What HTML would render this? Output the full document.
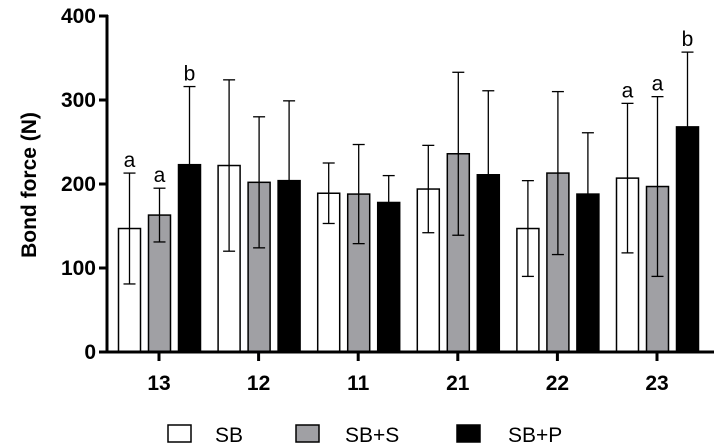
<!DOCTYPE html>
<html><head><meta charset="utf-8"><style>
body{margin:0;background:#fff;}
svg{display:block;font-family:"Liberation Sans",Arial,sans-serif;}
</style></head><body>
<svg id="chart" width="719" height="448"></svg>
<script>
const categories=["13","12","11","21","22","23"];
const seriesNames=["SB","SB+S","SB+P"];
const sbMeans=[147,222,189,194,147,207];
const sbSD=[66,102,36,52,57,89];
const sbsMeans=[163,202,188,236,213,197];
const sbsSD=[32,78,59,97,97,107];
const sbpMeans=[223,204,178,211,188,268];
const sbpSD=[93,95,32,100,73,89];
const yTicks=[0,100,200,300,400];
const letters=[["a","a","b"],null,null,null,null,["a","a","b"]];
const NS="http://www.w3.org/2000/svg";
const svg=document.getElementById('chart');
const y0=352,yTop=16,yMax=400;
function yS(v){return y0-(v/yMax)*(y0-yTop);}
function xS(i){return 159+i*99.6;}
function mk(t,a,p){const e=document.createElementNS(NS,t);for(const k in a)e.setAttribute(k,a[k]);(p||svg).appendChild(e);return e;}
const means=[sbMeans,sbsMeans,sbpMeans],sds=[sbSD,sbsSD,sbpSD];
const fills=["#fff","#a0a0a4","#000"];
const offs=[-29.5,0.5,30.5],bw=22;
categories.forEach((c,i)=>{
  for(let s=0;s<3;s++){
    const cx=xS(i)+offs[s],v=means[s][i],sd=sds[s][i];
    const r=mk('rect',{x:cx-bw/2,y:yS(v),width:bw,height:y0-yS(v),fill:fills[s],stroke:"#000","stroke-width":1.5});
    
    
    const g=mk('g',{stroke:"#000","stroke-width":1.3});
    
    
    mk('line',{x1:cx,x2:cx,y1:yS(v+sd),y2:yS(v-sd)},g);
    mk('line',{x1:cx-6,x2:cx+6,y1:yS(v+sd),y2:yS(v+sd)},g);
    mk('line',{x1:cx-6,x2:cx+6,y1:yS(v-sd),y2:yS(v-sd)},g);
    if(letters[i]){
      const t=mk('text',{x:cx,y:yS(v+sd)-6,"text-anchor":"middle","font-size":21,fill:"#000"});
      t.textContent=letters[i][s];
      
      
    }
  }
  const tk=mk('line',{x1:xS(i),x2:xS(i),y1:y0,y2:y0+9,stroke:"#000","stroke-width":3});
  
  
  const tl=mk('text',{x:xS(i),y:390,"text-anchor":"middle","font-size":21,"font-weight":"bold",fill:"#000"});
  tl.textContent=c;
  
  
});
yTicks.forEach(v=>{
  const l=mk('line',{x1:99,x2:108,y1:yS(v),y2:yS(v),stroke:"#000","stroke-width":3});
  
  
  const t=mk('text',{x:96,y:yS(v)+7,"text-anchor":"end","font-size":21,"font-weight":"bold",fill:"#000"});
  t.textContent=v;
  
  
});
const ya=mk('line',{x1:107,x2:107,y1:yTop-1,y2:y0+1.5,stroke:"#000","stroke-width":3});


const xa=mk('line',{x1:105.5,x2:714,y1:y0,y2:y0,stroke:"#000","stroke-width":3});


const yt=mk('text',{x:0,y:0,transform:"translate(36,185) rotate(-90)","text-anchor":"middle","font-size":21,"font-weight":"bold",fill:"#000"});
yt.textContent="Bond force (N)";


const legX=[168,296,457],legTX=[215,345,508];
seriesNames.forEach((n,s)=>{
  const g=mk('g',{});
  
  
  mk('rect',{x:legX[s],y:425,width:23,height:17,fill:fills[s],stroke:"#000","stroke-width":1.5},g);
  const t=mk('text',{x:legTX[s],y:442,"font-size":21,fill:"#000"},g);
  t.textContent=n;
});
</script>
</body></html>
